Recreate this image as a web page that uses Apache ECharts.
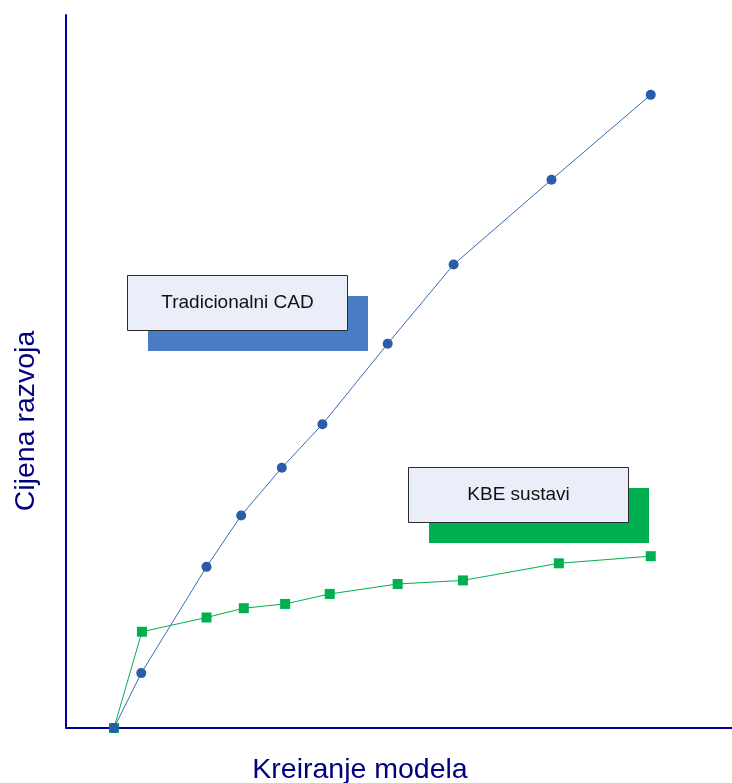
<!DOCTYPE html>
<html>
<head>
<meta charset="utf-8">
<title>Cijena razvoja – Tradicionalni CAD vs KBE sustavi</title>
<script src="https://cdn.jsdelivr.net/npm/echarts@6/dist/echarts.min.js"></script>
<style>
  html, body { margin: 0; padding: 0; background: #ffffff; }
  #chart { width: 732px; height: 783px; }
</style>
</head>
<body>
<div id="chart"></div>
<script>
// Development cost against model creation effort (relative units, 0–100)
const cadX   = [7.2, 11.3, 21.1, 26.3, 32.4, 38.5, 48.3, 58.2, 72.9, 87.8];
const cadY   = [0.0, 7.7, 22.6, 29.8, 36.5, 42.6, 53.9, 65.0, 76.9, 88.8];
const kbeX   = [7.2, 11.4, 21.1, 26.7, 32.9, 39.6, 49.8, 59.6, 74.0, 87.8];
const kbeY   = [0.0, 13.5, 15.5, 16.8, 17.4, 18.8, 20.2, 20.7, 23.1, 24.1];

const seriesNames = ['Tradicionalni CAD', 'KBE sustavi'];
const xTitle = 'Kreiranje modela';
const yTitle = 'Cijena razvoja';

const pairs = (xs, ys) => xs.map((x, i) => [x, ys[i]]);

const axisColor = '#000099';
const titleColor = '#000080';
const font = '"Liberation Sans", Arial, sans-serif';

// Callout box: a solid offset shadow with a light labelled panel on top
function callout(x, y, text, shadowColor) {
  return {
    type: 'group',
    x: x, y: y,
    children: [
      { type: 'rect', shape: { x: 21, y: 21, width: 220, height: 55 },
        style: { fill: shadowColor } },
      { type: 'rect', shape: { x: 0.5, y: 0.5, width: 220, height: 55 },
        style: { fill: '#E9EEF8', stroke: '#2b2b2b', lineWidth: 1 } },
      { type: 'text', x: 110.5, y: 28,
        style: { text: text, fill: '#111111', font: '19px ' + font,
                 align: 'center', verticalAlign: 'middle' } }
    ]
  };
}

const chart = echarts.init(document.getElementById('chart'));
chart.setOption({
  animation: false,
  backgroundColor: '#ffffff',
  grid: { left: 66, right: 0, top: 15, bottom: 55, containLabel: false, outerBoundsMode: 'none' },
  xAxis: {
    type: 'value', min: 0, max: 100,
    name: xTitle, nameLocation: 'middle', nameGap: 28,
    // right padding pulls the title a little left of the axis centre
    nameTextStyle: { color: titleColor, fontSize: 28.5, fontFamily: font, padding: [0, 78, 0, 0] },
    axisLine: { show: true, lineStyle: { color: axisColor, width: 2 } },
    axisTick: { show: false }, axisLabel: { show: false }, splitLine: { show: false }
  },
  yAxis: {
    type: 'value', min: 0, max: 100,
    name: yTitle, nameLocation: 'middle', nameGap: 25, nameRotate: 90,
    // right padding moves the rotated title below the axis centre
    nameTextStyle: { color: titleColor, fontSize: 28.5, fontFamily: font, padding: [0, 99, 0, 0] },
    axisLine: { show: true, onZero: false, lineStyle: { color: axisColor, width: 2 } },
    axisTick: { show: false }, axisLabel: { show: false }, splitLine: { show: false }
  },
  series: [
    {
      name: seriesNames[1], type: 'line', data: pairs(kbeX, kbeY),
      symbol: 'rect', symbolSize: 10, z: 2,
      lineStyle: { color: '#00B050', width: 1 },
      itemStyle: { color: '#00B050' }
    },
    {
      name: seriesNames[0], type: 'line', data: pairs(cadX, cadY),
      symbol: 'circle', symbolSize: 10, z: 3,
      lineStyle: { color: '#3A6BB8', width: 1 },
      itemStyle: { color: '#2A5CAA' }
    }
  ],
  graphic: [
    callout(127, 275, seriesNames[0], '#4A7CC4'),
    callout(408, 467, seriesNames[1], '#00B050')
  ]
});
</script>
</body>
</html>
